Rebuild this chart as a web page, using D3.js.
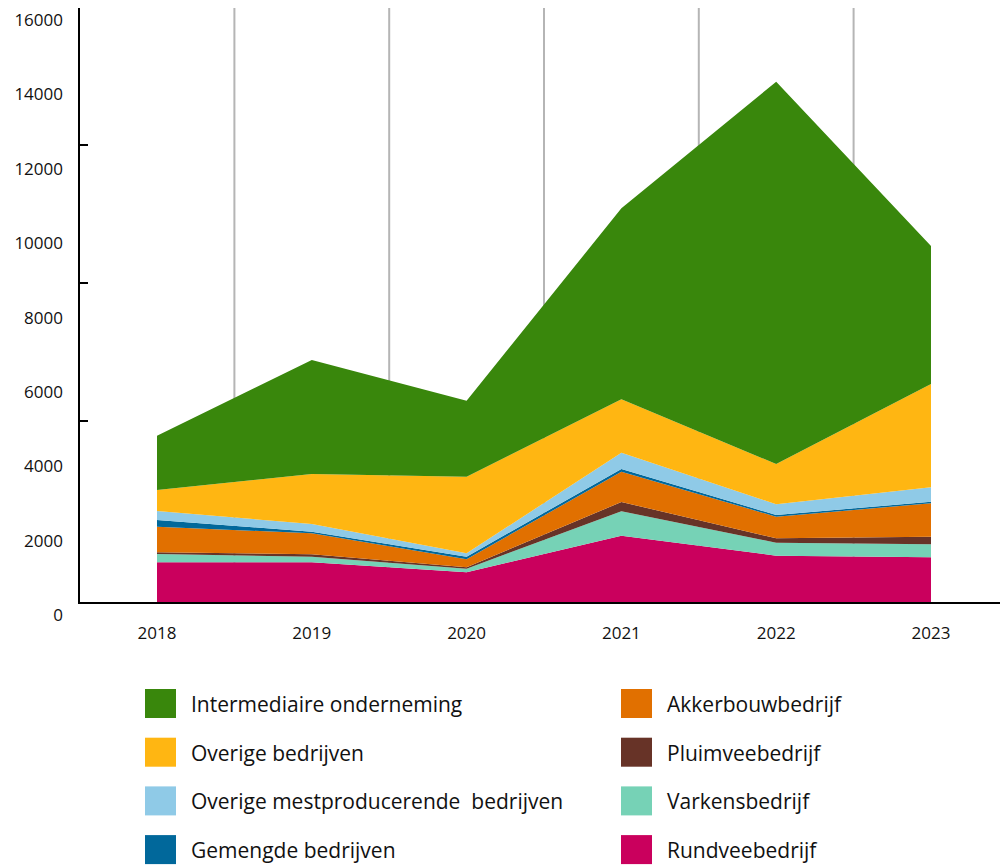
<!DOCTYPE html>
<html>
<head>
<meta charset="utf-8">
<script src="https://cdn.jsdelivr.net/npm/d3@7"></script>
<style>
  body { margin: 0; background: #fff; }
  svg text { font-family: "Open Sans", "Noto Sans", sans-serif; fill: #111; }
</style>
</head>
<body>
<svg id="chart" width="1000" height="866"></svg>
<script>

// values, per year
const years = [2018, 2019, 2020, 2021, 2022, 2023]

const rundvee      = [1094, 1094,  826, 1810, 1272, 1229]
const varkens      = [ 224,  151,   96,  656,  350,  349]
const pluimvee     = [  45,   65,   38,  250,  118,  205]
const akkerbouw    = [ 689,  564,  215,  815,  581,  898]
const gemengd      = [ 180,   43,   70,   72,   45,   43]
const overigeMest  = [ 242,  207,   91,  439,  288,  387]
const overige      = [ 565, 1345, 2060, 1436, 1084, 2778]
const intermediair = [1460, 3066, 2044, 5136, 10280, 3711]

const yLabels = [0, 2000, 4000, 6000, 8000, 10000, 12000, 14000, 16000]
const yTicks = [4894, 8605, 12316]

// stacking order, bottom to top
const series = [
  { key: "Rundveebedrijf", values: rundvee, color: "#ca005d" },
  { key: "Varkensbedrijf", values: varkens, color: "#76d2b6" },
  { key: "Pluimveebedrijf", values: pluimvee, color: "#673327" },
  { key: "Akkerbouwbedrijf", values: akkerbouw, color: "#e17000" },
  { key: "Gemengde bedrijven", values: gemengd, color: "#01689b" },
  { key: "Overige mestproducerende  bedrijven", values: overigeMest, color: "#8fcae7" },
  { key: "Overige bedrijven", values: overige, color: "#ffb612" },
  { key: "Intermediaire onderneming", values: intermediair, color: "#39870c" }
]

const legendLeft = ["Intermediaire onderneming", "Overige bedrijven",
  "Overige mestproducerende  bedrijven", "Gemengde bedrijven"]
const legendRight = ["Akkerbouwbedrijf", "Pluimveebedrijf",
  "Varkensbedrijf", "Rundveebedrijf"]

let svg = d3.select("#chart")

let x = d3.scaleLinear().domain([2018, 2023]).range([157, 931])
let y = d3.scaleLinear().domain([0, 16000]).range([603, 8])

let table = years.map((yr, i) => {
  let row = { year: yr }
  series.forEach(s => row[s.key] = s.values[i])
  return row
})

let stacked = d3.stack().keys(series.map(s => s.key))(table)
let colorOf = {}
series.forEach(s => colorOf[s.key] = s.color)

// vertical gridlines between the years
let mids = years.slice(1).map(yr => yr - 0.5)
svg.append("g").selectAll("line")
    .data(mids)
    .enter().append("line")
    .attr("x1", d => x(d)).attr("x2", d => x(d))
    .attr("y1", y(16000)).attr("y2", y(0))
    .attr("stroke", "#b5b5b5")
    .attr("stroke-width", 2)

let area = d3.area()
    .x(d => x(d.data.year))
    .y0(d => y(d[0]))
    .y1(d => y(d[1]))

svg.append("g").selectAll("path")
    .data(stacked)
    .enter().append("path")
    .attr("d", area)
    .attr("fill", d => colorOf[d.key])

// axes
svg.append("line")
    .attr("x1", 79).attr("x2", 79)
    .attr("y1", y(16000)).attr("y2", y(0) + 1)
    .attr("stroke", "#000").attr("stroke-width", 2)

svg.append("line")
    .attr("x1", 78).attr("x2", 1000)
    .attr("y1", y(0)).attr("y2", y(0))
    .attr("stroke", "#000").attr("stroke-width", 2)

svg.append("g").selectAll("line")
    .data(yTicks)
    .enter().append("line")
    .attr("x1", 79).attr("x2", 88)
    .attr("y1", d => y(d)).attr("y2", d => y(d))
    .attr("stroke", "#000").attr("stroke-width", 2)

// y labels sit a bit below their value
svg.append("g").selectAll("text")
    .data(yLabels)
    .enter().append("text")
    .attr("x", 63)
    .attr("y", d => y(d) + 18)
    .attr("text-anchor", "end")
    .attr("font-size", 17)
    .text(d => d)

svg.append("g").selectAll("text")
    .data(years)
    .enter().append("text")
    .attr("x", d => x(d))
    .attr("y", 639)
    .attr("text-anchor", "middle")
    .attr("font-size", 17)
    .text(d => d)

// legend
function legendColumn(keys, left) {
  let g = svg.append("g")
  let rows = g.selectAll("g")
      .data(keys)
      .enter().append("g")
      .attr("transform", (d, i) => "translate(" + left + "," + (689 + i * 48.7) + ")")
  rows.append("rect")
      .attr("width", 31).attr("height", 29)
      .attr("fill", d => colorOf[d])
  rows.append("text")
      .attr("x", 46)
      .attr("y", 23)
      .attr("font-size", 21)
      .style("white-space", "pre")
      .text(d => d)
}

legendColumn(legendLeft, 145)
legendColumn(legendRight, 621)

</script>
</body>
</html>
